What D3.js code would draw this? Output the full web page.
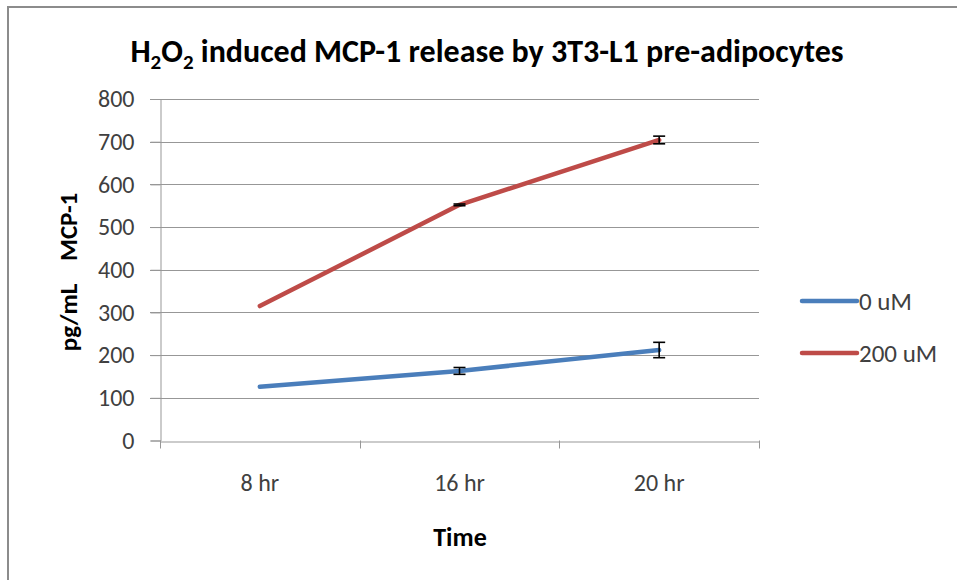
<!DOCTYPE html>
<html>
<head>
<meta charset="utf-8">
<script src="https://cdn.jsdelivr.net/npm/d3@7"></script>
<style>
  body { margin: 0; background: #fff; }
  svg { display: block; font-family: Carlito, Lato, "Open Sans", sans-serif; }
</style>
</head>
<body>
<svg id="chart" width="957" height="580"></svg>
<script>
// data
const times = ["8 hr", "16 hr", "20 hr"]
const seriesNames = ["0 uM", "200 uM"]
const control = [126, 163, 212]
const controlErr = [0, 8, 18]
const treated = [315, 552, 704]
const treatedErr = [0, 2, 9]
const yTicks = [0, 100, 200, 300, 400, 500, 600, 700, 800]
const colors = ["#4A7EBB", "#BE4B48"]

const FONT = "Carlito, Lato, 'Open Sans', sans-serif"
const svg = d3.select('#chart')

// outer frame (only left + top visible)
svg.append("path").attr("d", "M8,580 V7 H957").attr("fill", "none")
  .attr("stroke", "#8c8c8c").attr("stroke-width", 2)

// plot area
const margin = {left: 160, top: 99, right: 759, bottom: 440.5}
const x = d3.scaleBand().domain(times).range([margin.left, margin.right])
const y = d3.scaleLinear().domain([0, 800]).range([margin.bottom, margin.top])

// gridlines
svg.append("g").selectAll("line").data(yTicks.slice(1)).join("line")
  .attr("x1", margin.left - 10).attr("x2", margin.right)
  .attr("y1", d => Math.round(y(d)) + 0.5).attr("y2", d => Math.round(y(d)) + 0.5)
  .attr("stroke", "#979797").attr("stroke-width", 1)

// y axis
const yAxis = svg.append("g").attr("transform", `translate(${margin.left + 0.5},0)`)
  .call(d3.axisLeft(y).tickValues(yTicks).tickSize(10).tickPadding(16))
yAxis.select(".domain").attr("stroke", "#979797")
yAxis.selectAll(".tick line").attr("stroke", "#979797")
yAxis.selectAll(".tick text").style("font-size", "24px").style("font-family", FONT).attr("fill", "#404040")

// x axis
const xAxis = svg.append("g").attr("transform", `translate(0,${Math.round(margin.bottom) + 0.5})`)
  .call(d3.axisBottom(x).tickSize(0).tickPadding(32))
xAxis.select(".domain").attr("stroke", "#979797")
xAxis.selectAll(".tick text").style("font-size", "24px").style("font-family", FONT).attr("fill", "#404040")
// tick marks at band edges
svg.append("g").selectAll("line").data([...times.map(t => x(t)), margin.right]).join("line")
  .attr("x1", d => Math.round(d) + 0.5).attr("x2", d => Math.round(d) + 0.5)
  .attr("y1", margin.bottom).attr("y2", margin.bottom + 8)
  .attr("stroke", "#979797")

// series
const series = [
  {name: seriesNames[0], values: control, err: controlErr, color: colors[0]},
  {name: seriesNames[1], values: treated, err: treatedErr, color: colors[1]}
]
const cx = t => x(t) + x.bandwidth() / 2

const line = d3.line().x((d, i) => cx(times[i])).y(d => y(d))
series.forEach(s => {
  svg.append("path").datum(s.values).attr("d", line)
    .attr("fill", "none").attr("stroke", s.color).attr("stroke-width", 4.5)
    .attr("stroke-linecap", "round").attr("stroke-linejoin", "round")
  // error bars
  const eb = svg.append("g").attr("stroke", "#000").attr("stroke-width", 1.6)
  s.values.forEach((v, i) => {
    if (!s.err[i]) return
    const px = cx(times[i])
    eb.append("line").attr("x1", px).attr("x2", px).attr("y1", y(v + s.err[i])).attr("y2", y(v - s.err[i]))
    eb.append("line").attr("x1", px - 6).attr("x2", px + 6).attr("y1", y(v + s.err[i])).attr("y2", y(v + s.err[i]))
    eb.append("line").attr("x1", px - 6).attr("x2", px + 6).attr("y1", y(v - s.err[i])).attr("y2", y(v - s.err[i]))
  })
})

// legend
const legend = svg.append("g")
series.forEach((s, i) => {
  const ly = 301 + i * 52
  legend.append("line").attr("x1", 802).attr("x2", 857).attr("y1", ly).attr("y2", ly)
    .attr("stroke", s.color).attr("stroke-width", 4.5).attr("stroke-linecap", "round")
  legend.append("text").attr("x", 859).attr("y", ly).attr("dy", "0.35em")
    .style("font-size", "25px").attr("fill", "#404040").text(s.name)
})

// title
const title = svg.append("text").attr("x", 487).attr("y", 62).attr("text-anchor", "middle")
  .style("font-size", "32px").style("font-weight", "bold").attr("fill", "#000")
title.append("tspan").text("H")
title.append("tspan").text("2").style("font-size", "21px").attr("dy", 7)
title.append("tspan").text("O").attr("dy", -7)
title.append("tspan").text("2").style("font-size", "21px").attr("dy", 7)
title.append("tspan").text(" induced MCP-1 release by 3T3-L1 pre-adipocytes").attr("dy", -7)

// axis labels
svg.append("text").attr("transform", "translate(77,272) rotate(-90)")
  .attr("text-anchor", "middle").style("font-size", "25px").style("font-weight", "bold")
  .attr("xml:space", "preserve").text("pg/mL    MCP-1")

svg.append("text").attr("x", 460).attr("y", 546).attr("text-anchor", "middle")
  .style("font-size", "26px").style("font-weight", "bold").text("Time")
</script>
</body>
</html>
